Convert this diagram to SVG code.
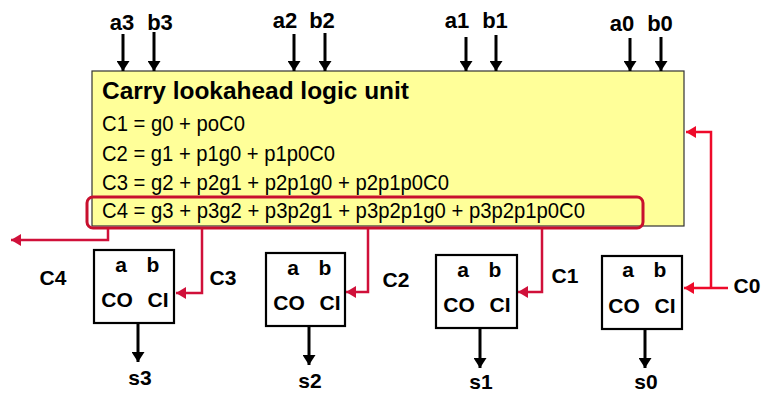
<svg xmlns="http://www.w3.org/2000/svg" width="763" height="393" viewBox="0 0 763 393">
<style>
  text { font-family: "Liberation Sans", Arial, sans-serif; fill: #000; }
  .lbl { font-size: 21px; font-weight: bold; text-anchor: middle; }
  .top { font-size: 22px; }
  .eq { font-size: 22px; }
  .title { font-size: 24px; font-weight: bold; }
  .blk { stroke: #000; stroke-width: 3; fill: none; marker-end: url(#ab); }
  .red { stroke: #d0103a; stroke-width: 2.5; fill: none; marker-end: url(#ar); }
  .red0 { stroke: #ee0a2a; stroke-width: 2.5; fill: none; }
  .adder { fill: #fff; stroke: #000; stroke-width: 2.2; }
</style>
<defs>
  <marker id="ab" viewBox="0 0 10 13" refX="10" refY="6.5" markerWidth="10" markerHeight="13" markerUnits="userSpaceOnUse" orient="auto">
    <path d="M0,0 L10,6.5 L0,13 z" fill="#000"/>
  </marker>
  <marker id="ar" viewBox="0 0 10 12" refX="10" refY="6" markerWidth="10" markerHeight="12" markerUnits="userSpaceOnUse" orient="auto">
    <path d="M0,0 L10,6 L0,12 z" fill="#d0103a"/>
  </marker>
  <marker id="ar0" viewBox="0 0 10 12" refX="10" refY="6" markerWidth="10" markerHeight="12" markerUnits="userSpaceOnUse" orient="auto">
    <path d="M0,0 L10,6 L0,12 z" fill="#ee0a2a"/>
  </marker>
</defs>
<rect width="763" height="393" fill="#fff"/>

<g id="cla">
  <rect x="92" y="71" width="592" height="155" fill="#ffff99" stroke="#333" stroke-width="1.2"/>
  <text class="title" x="102" y="99" textLength="307" lengthAdjust="spacingAndGlyphs">Carry lookahead logic unit</text>
  <text class="eq" x="102" y="131" textLength="143" lengthAdjust="spacingAndGlyphs">C1 = g0 + poC0</text>
  <text class="eq" x="102" y="161" textLength="233" lengthAdjust="spacingAndGlyphs">C2 = g1 + p1g0 + p1p0C0</text>
  <text class="eq" x="102" y="190" textLength="347" lengthAdjust="spacingAndGlyphs">C3 = g2 + p2g1 + p2p1g0 + p2p1p0C0</text>
  <text class="eq" x="102" y="218" textLength="483" lengthAdjust="spacingAndGlyphs">C4 = g3 + p3g2 + p3p2g1 + p3p2p1g0 + p3p2p1p0C0</text>
  <rect x="87" y="197" width="556" height="31" rx="6" fill="none" stroke="#c8102e" stroke-width="3"/>
</g>

<g id="inputs">
  <text class="lbl top" x="122" y="30">a3</text>
  <text class="lbl top" x="160" y="30">b3</text>
  <text class="lbl top" x="285" y="28">a2</text>
  <text class="lbl top" x="322" y="28">b2</text>
  <text class="lbl top" x="457" y="28">a1</text>
  <text class="lbl top" x="495" y="28">b1</text>
  <text class="lbl top" x="622" y="31">a0</text>
  <text class="lbl top" x="660" y="31">b0</text>
</g>

<g id="adder3">
  <rect class="adder" x="94" y="250" width="80" height="73"/>
  <text class="lbl" x="121" y="272">a</text>
  <text class="lbl" x="153" y="272">b</text>
  <text class="lbl" x="117" y="307">CO</text>
  <text class="lbl" x="158" y="307">CI</text>
</g>
<g id="adder2">
  <rect class="adder" x="266" y="253" width="79" height="73"/>
  <text class="lbl" x="293" y="275">a</text>
  <text class="lbl" x="325" y="275">b</text>
  <text class="lbl" x="289" y="310">CO</text>
  <text class="lbl" x="330" y="310">CI</text>
</g>
<g id="adder1">
  <rect class="adder" x="436" y="255" width="81" height="73"/>
  <text class="lbl" x="463" y="277">a</text>
  <text class="lbl" x="495" y="277">b</text>
  <text class="lbl" x="459" y="312">CO</text>
  <text class="lbl" x="500" y="312">CI</text>
</g>
<g id="adder0">
  <rect class="adder" x="602" y="256" width="80" height="73"/>
  <text class="lbl" x="628" y="277">a</text>
  <text class="lbl" x="660" y="277">b</text>
  <text class="lbl" x="624" y="313">CO</text>
  <text class="lbl" x="665" y="313">CI</text>
</g>

<g id="outputs">
  <text class="lbl" x="140" y="385">s3</text>
  <text class="lbl" x="310" y="388">s2</text>
  <text class="lbl" x="481" y="389">s1</text>
  <text class="lbl" x="646" y="389">s0</text>
</g>

<g id="carry-labels">
  <text class="lbl" x="53" y="285">C4</text>
  <text class="lbl" x="223" y="285">C3</text>
  <text class="lbl" x="396" y="287">C2</text>
  <text class="lbl" x="565" y="283">C1</text>
  <text class="lbl" x="747" y="293">C0</text>
</g>

<g id="connectors">
  <path class="blk" d="M123,34 V71"/>
  <path class="blk" d="M154,32 V71"/>
  <path class="blk" d="M294,34 V71"/>
  <path class="blk" d="M325,33 V71"/>
  <path class="blk" d="M466,37 V71"/>
  <path class="blk" d="M496,35 V71"/>
  <path class="blk" d="M630,38 V71"/>
  <path class="blk" d="M661,37 V71"/>

  <path class="blk" d="M138,324 V362"/>
  <path class="blk" d="M309,327 V365"/>
  <path class="blk" d="M480,329 V368"/>
  <path class="blk" d="M645,330 V368"/>

  <path class="red" d="M108,229 V240 H11"/>
  <path class="red" d="M202,229 V293 H176"/>
  <path class="red" d="M368,229 V292 H346"/>
  <path class="red" d="M542,229 V292 H518"/>
  <path class="red0" d="M728,288 H684" marker-end="url(#ar0)"/>
  <path class="red0" d="M711,288 V132 H686" marker-end="url(#ar0)"/>
</g>
</svg>
